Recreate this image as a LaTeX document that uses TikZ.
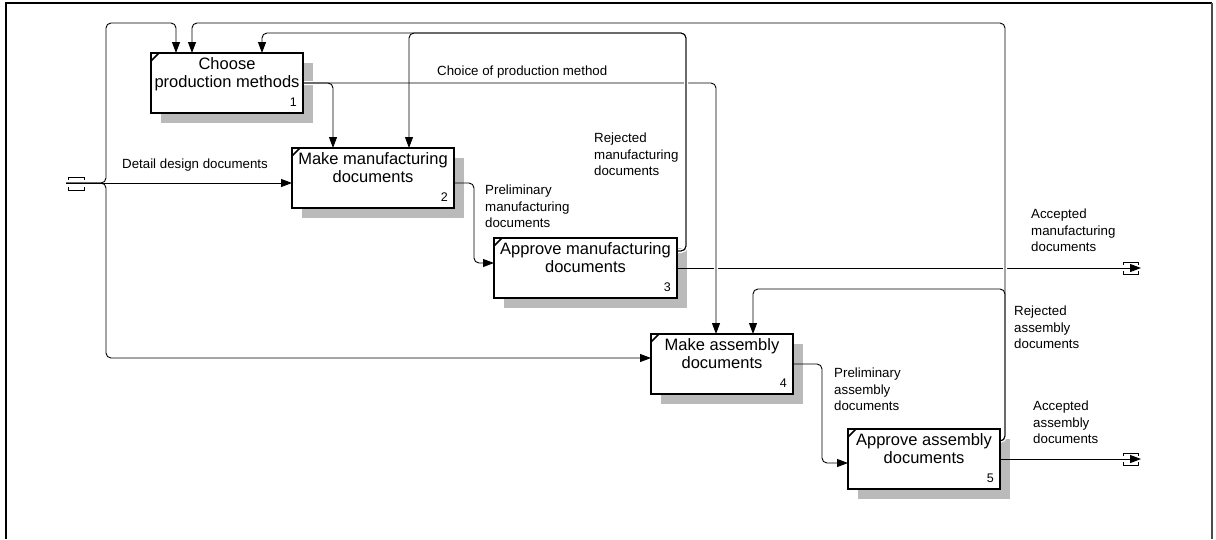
\documentclass[tikz,border=0pt]{standalone}
\usepackage{fontspec}
\setmainfont{Liberation Sans}
\usetikzlibrary{arrows.meta,calc}
\pgfdeclarelayer{shadowlayer}
\pgfdeclarelayer{linelayer}
\pgfsetlayers{shadowlayer,linelayer,main}

\begin{document}
\begin{tikzpicture}[x=1pt,y=-1pt,
  procbox/.style={draw, fill=white, line width=1.7pt, inner sep=0pt, outer sep=0pt, rectangle},
  boxtitle/.style={inner sep=0pt, align=center, anchor=north, font=\fontsize{16.5}{18.5}\selectfont},
  boxnum/.style={inner sep=0pt, anchor=base east, font=\fontsize{12.5}{14}\selectfont},
  flowlabel/.style={inner sep=0pt, align=left, anchor=north west, font=\fontsize{13.3}{16.2}\selectfont},
  conn/.style={line width=0.9pt, rounded corners=5pt, -{Triangle[length=11pt,width=8pt]}},
  gapped/.style={preaction={draw=white, line width=4pt, arrows=-}},
  shadowfill/.style={fill=black!27},
  tunnelmark/.style={line width=0.9pt},
  cornertick/.style={line width=1.7pt},
]
\useasboundingbox (0,0) rectangle (1216,539);

% sheet frame
\draw[line width=2pt] (6,539) -- (6,3) -- (1212,3);
\draw[line width=1.4pt, black!70] (1212,3) -- (1212,539);

% activity boxes
\node[procbox, minimum width=152pt, minimum height=60pt] (b1) at (227,83) {};
\node[procbox, minimum width=162pt, minimum height=60pt] (b2) at (373,178) {};
\node[procbox, minimum width=183pt, minimum height=60pt] (b3) at (585.5,268) {};
\node[procbox, minimum width=142pt, minimum height=60pt] (b4) at (722,364) {};
\node[procbox, minimum width=152pt, minimum height=60pt] (b5) at (924,459) {};

\node[boxtitle] (t1) at ($(b1.north)+(0,4)$) {Choose\\production methods};
\node[boxtitle] (t2) at ($(b2.north)+(0,4)$) {Make manufacturing\\documents};
\node[boxtitle] (t3) at ($(b3.north)+(0,4)$) {Approve manufacturing\\documents};
\node[boxtitle] (t4) at ($(b4.north)+(0,4)$) {Make assembly\\documents};
\node[boxtitle] (t5) at ($(b5.north)+(0,4)$) {Approve assembly\\documents};

\node[boxnum] (n1) at ($(b1.south east)+(-6,-7)$) {1};
\node[boxnum] (n2) at ($(b2.south east)+(-6,-7)$) {2};
\node[boxnum] (n3) at ($(b3.south east)+(-6,-7)$) {3};
\node[boxnum] (n4) at ($(b4.south east)+(-6,-7)$) {4};
\node[boxnum] (n5) at ($(b5.south east)+(-6,-7)$) {5};

\foreach \b in {b1,b2,b3,b4,b5}{
  \draw[cornertick] ($(\b.north west)+(0,8)$) -- ($(\b.north west)+(8,0)$);
}

% drop shadows
\begin{pgfonlayer}{shadowlayer}
\foreach \b in {b1,b2,b3,b4,b5}{
  \fill[shadowfill] ($(\b.north west)+(10,10)$) rectangle ($(\b.south east)+(10,10)$);
}
\end{pgfonlayer}

% boundary points
\coordinate (tin) at (66,183);
\coordinate (fork) at (106,183);
\coordinate (tmo) at (1141,268);
\coordinate (tao) at (1141,459);

% tunnel marks
\draw[tunnelmark] (68,180) -- (68,177) -- (84,177) -- (84,180)
                  (68,187) -- (68,190) -- (84,190) -- (84,187);
\draw[tunnelmark] (1123,265) -- (1123,262) -- (1138,262) -- (1138,265)
                  (1123,271) -- (1123,274) -- (1138,274) -- (1138,271);
\draw[tunnelmark] (1123,456) -- (1123,453) -- (1138,453) -- (1138,456)
                  (1123,462) -- (1123,465) -- (1138,465) -- (1138,462);

\begin{pgfonlayer}{linelayer}
% outputs to the boundary
\draw[conn] (b3.east) -- (tmo);
\draw[conn] (b5.east) -- (tao);
% detail design documents
\draw[conn] (tin) -- (tin -| b2.west);
\draw[conn] (tin) -- (fork) -- (106,23) -| ($(b1.north west)+(25,0)$);
\draw[conn] (tin) -- (fork) |- ($(b4.west)+(0,-6)$);
% choice of production method
\draw[conn, gapped] (b1.east) -| ($(b4.north west)+(65,0)$);
\draw[conn] (b1.east) -| ($(b2.north west)+(41,0)$);
% preliminary manufacturing documents
\draw[conn] ($(b2.east)+(0,5)$) -- ++(20,0) |- ($(b3.west)+(0,-5)$);
% rejected manufacturing documents
\draw[conn, gapped] ($(b3.north east)+(0,13)$) -- ++(9,0) -- ++(0,-218) -| ($(b1.north west)+(111,0)$);
\draw[conn] ($(b3.north east)+(0,13)$) -- ++(9,0) -- ++(0,-218) -| ($(b2.north west)+(117,0)$);
% preliminary assembly documents
\draw[conn] (b4.east) -- ++(29,0) |- ($(b5.west)+(0,4)$);
% rejected assembly documents
\draw[conn, gapped] ($(b5.north east)+(0,12)$) -- ++(5,0) -- ++(0,-418) -| ($(b1.north west)+(41,0)$);
\draw[conn] ($(b5.north east)+(0,12)$) -- ++(5,0) -- ++(0,-152) -| ($(b4.north west)+(102,0)$);
\end{pgfonlayer}

% arrow labels
\node[flowlabel] (l1) at (122,159) {Detail design documents};
\node[flowlabel] (l2) at (437,66) {Choice of production method};
\node[flowlabel] (l3) at (594,133) {Rejected\\manufacturing\\documents};
\node[flowlabel] (l4) at (485,185) {Preliminary\\manufacturing\\documents};
\node[flowlabel] (l5) at (1031,209) {Accepted\\manufacturing\\documents};
\node[flowlabel] (l6) at (1014,306) {Rejected\\assembly\\documents};
\node[flowlabel] (l7) at (834,368) {Preliminary\\assembly\\documents};
\node[flowlabel] (l8) at (1033,401) {Accepted\\assembly\\documents};
\end{tikzpicture}
\end{document}
